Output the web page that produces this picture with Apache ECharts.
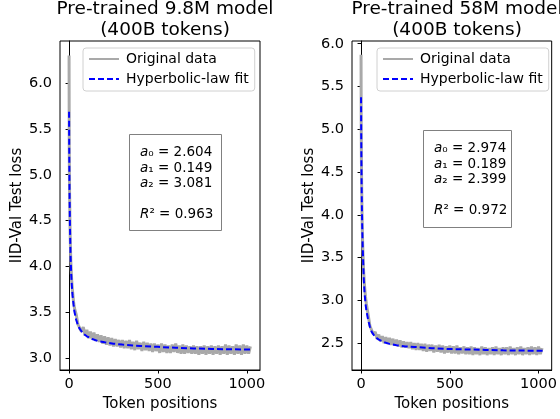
<!DOCTYPE html>
<html>
<head>
<meta charset="utf-8">
<script src="https://cdn.jsdelivr.net/npm/echarts@6.0.0/dist/echarts.min.js"></script>
<style>
  html, body { margin: 0; padding: 0; background: #fff; }
  #charts { width: 560px; height: 419px; }
</style>
</head>
<body>
<div id="charts"></div>
<script>
// 原始数据 token 位置
var grayTokens = [0, 1, 2, 3, 5, 7, 10, 15, 20, 25, 30,
  40, 50, 60, 70, 80, 90, 100, 110, 120, 130, 140, 150, 160, 170, 180, 190,
  200, 210, 220, 230, 240, 250, 260, 270, 280, 290, 300, 310, 320, 330, 340,
  350, 360, 370, 380, 390, 400, 410, 420, 430, 440, 450, 460, 470, 480, 490,
  500, 510, 520, 530, 540, 550, 560, 570, 580, 590, 600, 610, 620, 630, 640,
  650, 660, 670, 680, 690, 700, 710, 720, 730, 740, 750, 760, 770, 780, 790,
  800, 810, 820, 830, 840, 850, 860, 870, 880, 890, 900, 910, 920, 930, 940,
  950, 960, 970, 980, 990, 1000, 1010, 1020];

// 9.8M 模型 原始 loss
var gray98M = [6.30, 5.30, 4.99, 4.79, 4.49, 4.27, 4.05, 3.84, 3.72, 3.62, 3.55,
  3.48, 3.37, 3.38, 3.29, 3.34, 3.25, 3.31, 3.22, 3.29, 3.21, 3.28, 3.19, 3.26, 3.18, 3.25, 3.16,
  3.24, 3.15, 3.23, 3.14, 3.22, 3.13, 3.21, 3.13, 3.20, 3.12, 3.20, 3.11, 3.19, 3.11, 3.20,
  3.10, 3.18, 3.09, 3.19, 3.10, 3.17, 3.08, 3.18, 3.09, 3.17, 3.08, 3.16, 3.07, 3.16, 3.08,
  3.15, 3.06, 3.16, 3.07, 3.15, 3.06, 3.14, 3.06, 3.15, 3.07, 3.16, 3.06, 3.14, 3.05, 3.15,
  3.05, 3.14, 3.06, 3.13, 3.05, 3.14, 3.05, 3.13, 3.04, 3.13, 3.05, 3.14, 3.04, 3.13, 3.05,
  3.14, 3.04, 3.13, 3.05, 3.14, 3.04, 3.13, 3.05, 3.15, 3.04, 3.14, 3.05, 3.13, 3.04, 3.15,
  3.05, 3.14, 3.04, 3.15, 3.05, 3.14, 3.05, 3.13];

// 58M 模型 原始 loss
var gray58M = [5.87, 5.00, 4.67, 4.43, 4.09, 3.84, 3.60, 3.32, 3.16, 3.04, 2.96,
  2.83, 2.70, 2.69, 2.60, 2.63, 2.55, 2.60, 2.52, 2.58, 2.50, 2.57, 2.49, 2.56, 2.48, 2.55, 2.47,
  2.54, 2.46, 2.53, 2.45, 2.52, 2.45, 2.51, 2.44, 2.51, 2.43, 2.50, 2.42, 2.50, 2.42, 2.49,
  2.41, 2.49, 2.40, 2.48, 2.41, 2.48, 2.39, 2.47, 2.40, 2.48, 2.39, 2.47, 2.38, 2.46, 2.39,
  2.47, 2.38, 2.46, 2.38, 2.47, 2.37, 2.45, 2.38, 2.46, 2.37, 2.45, 2.37, 2.46, 2.36, 2.45,
  2.37, 2.44, 2.36, 2.46, 2.37, 2.45, 2.36, 2.44, 2.37, 2.45, 2.36, 2.46, 2.37, 2.44, 2.36,
  2.45, 2.37, 2.45, 2.36, 2.46, 2.37, 2.44, 2.36, 2.45, 2.37, 2.46, 2.36, 2.44, 2.37, 2.45,
  2.36, 2.46, 2.37, 2.45, 2.36, 2.46, 2.37, 2.44];

// 拟合曲线 token 位置
var fitTokens = [0, 1, 2, 3, 5, 8, 12, 16, 20, 25, 30, 40, 50, 60, 80, 100,
  130, 160, 200, 250, 300, 400, 500, 600, 700, 800, 900, 1023];

var fit98M = [5.685, 5.25, 4.95, 4.75, 4.45, 4.15, 3.92, 3.78, 3.68, 3.59, 3.51,
  3.42, 3.36, 3.32, 3.27, 3.24, 3.21, 3.19, 3.175, 3.16, 3.15, 3.135, 3.125,
  3.115, 3.108, 3.103, 3.099, 3.095];

var fit58M = [5.373, 4.95, 4.62, 4.38, 4.05, 3.72, 3.45, 3.22, 3.08, 2.96, 2.88,
  2.77, 2.69, 2.63, 2.57, 2.54, 2.51, 2.49, 2.475, 2.46, 2.455, 2.44, 2.43,
  2.425, 2.42, 2.415, 2.412, 2.41];

// 刻度
var xTicks = [0, 500, 1000];
var yTicks98M = [3.0, 3.5, 4.0, 4.5, 5.0, 5.5, 6.0];
var yTicks58M = [2.5, 3.0, 3.5, 4.0, 4.5, 5.0, 5.5, 6.0];

// 参数 a0, a1, a2, R2
var params98M = ['2.604', '0.149', '3.081', '0.963'];
var params58M = ['2.974', '0.189', '2.399', '0.972'];

var FONT = 'DejaVu Sans';

var LossChart = {

  init: function () {
    this.renderChart();
  },

  zip: function (xs, ys) {
    var out = [];
    for (var i = 0; i < xs.length; i++) {
      out.push([xs[i], ys[i]]);
    }
    return out;
  },

  xAxisOpt: function (idx) {
    return {
      type: 'value', gridIndex: idx, min: -51, max: 1074,
      name: 'Token positions', nameLocation: 'middle', nameGap: 26,
      nameTextStyle: { fontFamily: FONT, fontSize: 15, color: '#000' },
      splitLine: { show: false },
      axisLine: { lineStyle: { color: '#000', width: 1 } },
      axisTick: { customValues: xTicks, length: 3.5, lineStyle: { color: '#000' } },
      axisLabel: {
        customValues: xTicks, margin: 7, fontFamily: FONT, fontSize: 14.5, color: '#000',
        formatter: function (v) { return String(v); }
      }
    };
  },

  yAxisOpt: function (idx, min, max, ticks) {
    return {
      type: 'value', gridIndex: idx, min: min, max: max,
      name: 'IID-Val Test loss', nameLocation: 'middle', nameGap: 35,
      nameTextStyle: { fontFamily: FONT, fontSize: 15, color: '#000' },
      splitLine: { show: false },
      axisLine: { lineStyle: { color: '#000', width: 1 } },
      axisTick: { customValues: ticks, length: 3.5, lineStyle: { color: '#000' } },
      axisLabel: {
        customValues: ticks, margin: 8, fontFamily: FONT, fontSize: 14.5, color: '#000',
        formatter: function (v) { return v.toFixed(1); }
      }
    };
  },

  // 参数文本框
  paramBox: function (x, y, w, h, p) {
    var rich = {
      i: { fontFamily: FONT, fontSize: 13.5, fontStyle: 'italic', color: '#000' },
      n: { fontFamily: FONT, fontSize: 13.5, color: '#000' }
    };
    var text = '{i|a}{n|₀ = ' + p[0] + '}\n{i|a}{n|₁ = ' + p[1] + '}\n{i|a}{n|₂ = ' + p[2] +
      '}\n\n{i|R}{n|² = ' + p[3] + '}';
    return [{
      type: 'rect', left: x, top: y, z: 10,
      shape: { width: w, height: h },
      style: { fill: '#fff', stroke: '#808080', lineWidth: 1 }
    }, {
      type: 'text', left: x + 11, top: y + 11, z: 11,
      style: { text: text, rich: rich, lineHeight: 15.5 }
    }];
  },

  legendOpt: function (left, top) {
    return {
      orient: 'vertical', left: left, top: top,
      itemWidth: 30, itemHeight: 14, itemGap: 6,
      padding: [4, 6, 5, 5],
      backgroundColor: '#fff', borderColor: '#d0d0d0', borderWidth: 1, borderRadius: 3,
      itemStyle: { opacity: 0 },
      textStyle: { fontFamily: FONT, fontSize: 14, color: '#000', padding: [0, 0, 0, 2] },
      data: ['Original data', 'Hyperbolic-law fit']
    };
  },

  renderChart: function () {
    var myChart = echarts.init(document.getElementById('charts'));
    var grayStyle = { color: '#a9a9a9', width: 3 };
    var blueStyle = { color: '#0000ff', width: 2, type: [6, 3] };
    var titleStyle = { fontFamily: FONT, fontSize: 18.5, fontWeight: 'normal', color: '#000', lineHeight: 21 };

    var option = {
      animation: false,
      title: [{
        text: 'Pre-trained 9.8M model\n(400B tokens)', left: 160, top: -6, textAlign: 'center',
        textStyle: titleStyle
      }, {
        text: 'Pre-trained 58M model\n(400B tokens)', left: 452, top: -6, textAlign: 'center',
        textStyle: titleStyle
      }],
      legend: [this.legendOpt(83, 48), this.legendOpt(377, 48)],
      grid: [
        { left: 60, top: 41, width: 200, height: 329, show: true, borderColor: '#000', borderWidth: 1, backgroundColor: 'transparent' },
        { left: 352, top: 41, width: 200, height: 329, show: true, borderColor: '#000', borderWidth: 1, backgroundColor: 'transparent' }
      ],
      xAxis: [this.xAxisOpt(0), this.xAxisOpt(1)],
      yAxis: [
        this.yAxisOpt(0, 2.873, 6.457, yTicks98M),
        this.yAxisOpt(1, 2.185, 6.032, yTicks58M)
      ],
      graphic: this.paramBox(129, 134, 92, 96, params98M).concat(this.paramBox(423, 130, 88, 97, params58M)),
      series: [
        { name: 'Original data', type: 'line', xAxisIndex: 0, yAxisIndex: 0, symbol: 'none',
          lineStyle: grayStyle, itemStyle: { color: '#a9a9a9' }, data: this.zip(grayTokens, gray98M) },
        { name: 'Hyperbolic-law fit', type: 'line', xAxisIndex: 0, yAxisIndex: 0, symbol: 'none', z: 3,
          lineStyle: blueStyle, itemStyle: { color: '#0000ff' }, data: this.zip(fitTokens, fit98M) },
        { name: 'Original data', type: 'line', xAxisIndex: 1, yAxisIndex: 1, symbol: 'none',
          lineStyle: grayStyle, itemStyle: { color: '#a9a9a9' }, data: this.zip(grayTokens, gray58M) },
        { name: 'Hyperbolic-law fit', type: 'line', xAxisIndex: 1, yAxisIndex: 1, symbol: 'none', z: 3,
          lineStyle: blueStyle, itemStyle: { color: '#0000ff' }, data: this.zip(fitTokens, fit58M) }
      ]
    };

    myChart.setOption(option);
  }
};

LossChart.init();
</script>
</body>
</html>
